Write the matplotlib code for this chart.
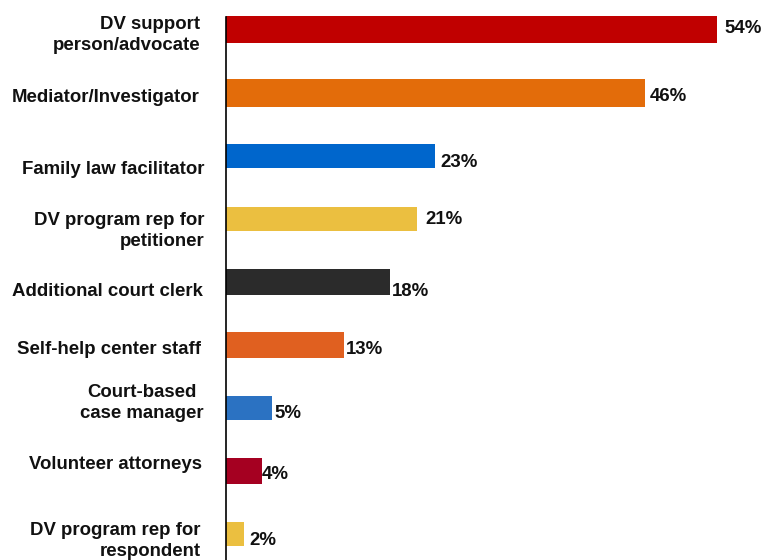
import matplotlib.pyplot as plt
import numpy as np

plt.rcParams['font.family'] = ['Liberation Sans', 'DejaVu Sans']

roles = ['DV support\nperson/advocate', 'Mediator/Investigator', 'Family law facilitator',
         'DV program rep for\npetitioner', 'Additional court clerk', 'Self-help center staff',
         'Court-based\ncase manager', 'Volunteer attorneys', 'DV program rep for\nrespondent']
pct = [54, 46, 23, 21, 18, 13, 5, 4, 2]
colors = ['#C00000', '#E36C0A', '#0066CC', '#EBBF40', '#2B2B2B',
          '#E06020', '#2B72C2', '#A50021', '#EBBF40']

# label nudges in pixels (x from axis / bar end, y downwards)
name_dx = [-26, -26, -22, -21, -23, -25, -22, -24, -25]
name_dy = [5, 5, 14, 12, 10, 5, -5, -7, 7]
name_align = ['right', 'right', 'right', 'right', 'right', 'right', 'center', 'right', 'right']
val_dx = [7, 5, 5, 8, 2, 2, 3, -1, 5]
val_dy = [-1, 4, 7, 1, 10, 5, 5, 3, 6]
heights = [0.42, 0.45, 0.39, 0.39, 0.41, 0.40, 0.39, 0.41, 0.39]

fig = plt.figure(figsize=(7.73, 5.6), dpi=100)
ax = fig.add_axes([226 / 773, 0, 1 - 226 / 773, 1])

y = np.arange(len(roles))
ax.barh(y, pct, height=heights, color=colors)

ax.set_xlim(0, 60.1)
ax.set_ylim(8.41, -0.471)

for i, (name, v) in enumerate(zip(roles, pct)):
    ax.annotate(name, xy=(0, i), xycoords=('axes fraction', 'data'),
                xytext=(name_dx[i], -name_dy[i]), textcoords='offset pixels',
                ha='right', va='center', multialignment=name_align[i],
                fontsize=13.4, fontweight='bold', color='#111111', linespacing=1.3)
    ax.annotate(f'{v}%', xy=(v, i), xytext=(val_dx[i], -val_dy[i]),
                textcoords='offset pixels', ha='left', va='center',
                fontsize=13.4, fontweight='bold', color='#111111')

for s in ['top', 'right', 'bottom']:
    ax.spines[s].set_visible(False)
ax.spines['left'].set_linewidth(1.2)
ax.spines['left'].set_color('black')
ax.spines['left'].set_bounds(-0.2, 8.41)
ax.set_xticks([])
ax.set_yticks([])

fig.savefig('out.png', dpi=100)
